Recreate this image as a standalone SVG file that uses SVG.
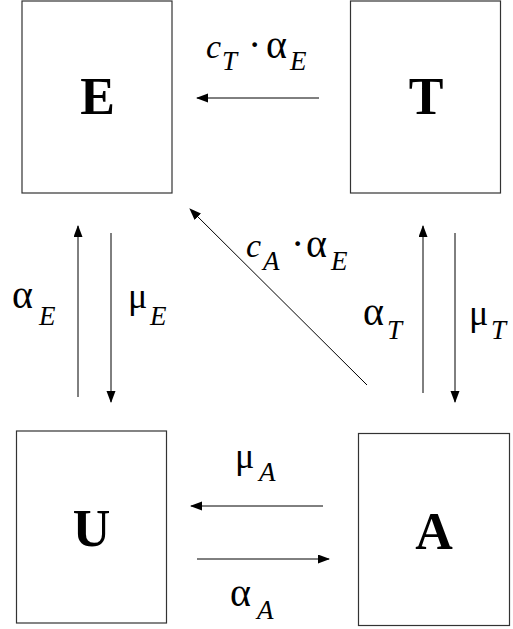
<svg xmlns="http://www.w3.org/2000/svg" width="513" height="629" viewBox="0 0 513 629">
<style>
.box{fill:#fff;stroke:#333;stroke-width:1.2}
.c line{stroke:#000;stroke-width:1;marker-end:url(#ah)}
</style>
<defs>
<marker id="ah" markerUnits="userSpaceOnUse" markerWidth="12" markerHeight="10" refX="11" refY="4.5" orient="auto">
<path d="M0,0 L12,4.5 L0,9 z" fill="#000"/>
</marker>
</defs>
<g font-family="Liberation Serif" font-weight="bold" font-size="52" text-anchor="middle" fill="#000">
<g id="node-E"><rect class="box" x="22" y="1" width="150" height="192"/><text x="97.5" y="114">E</text></g>
<g id="node-T"><rect class="box" x="350.5" y="1" width="150" height="192"/><text x="426" y="114">T</text></g>
<g id="node-U"><rect class="box" x="16.5" y="431" width="150" height="192"/><text x="91.5" y="546">U</text></g>
<g id="node-A"><rect class="box" x="358.5" y="433.5" width="151" height="192"/><text x="434" y="549">A</text></g>
</g>
<g id="connectors" class="c">
<line x1="319" y1="98" x2="197" y2="98"/>
<line x1="78" y1="397" x2="78" y2="226"/>
<line x1="111" y1="233" x2="111" y2="402"/>
<line x1="423" y1="393" x2="423" y2="226"/>
<line x1="455" y1="233" x2="455" y2="402"/>
<line x1="367" y1="385" x2="190" y2="209"/>
<line x1="323" y1="506" x2="191" y2="506"/>
<line x1="197" y1="559" x2="329" y2="559"/>
</g>
<g id="labels" font-family="Liberation Serif" fill="#000">
<g font-size="40">
<text x="248" y="58">·</text><text x="266" y="58">α</text>
<text x="291" y="257">·</text><text x="306" y="257">α</text>
<text x="12" y="308">α</text>
<text x="363" y="325">α</text>
<text x="230" y="606">α</text>
</g>
<g font-size="36">
<text x="128" y="308">μ</text>
<text x="469" y="325">μ</text>
<text x="235" y="468">μ</text>
</g>
<g font-style="italic" font-size="34">
<text x="206" y="58">c</text>
<text x="246" y="257">c</text>
</g>
<g font-style="italic" font-size="27">
<text x="222" y="70">T</text><text x="290" y="70">E</text>
<text x="263" y="270">A</text><text x="331" y="270">E</text>
<text x="39" y="325">E</text>
<text x="150" y="325">E</text>
<text x="387" y="339">T</text>
<text x="491" y="339">T</text>
<text x="259" y="481">A</text>
<text x="257" y="619">A</text>
</g>
</g>
</svg>
